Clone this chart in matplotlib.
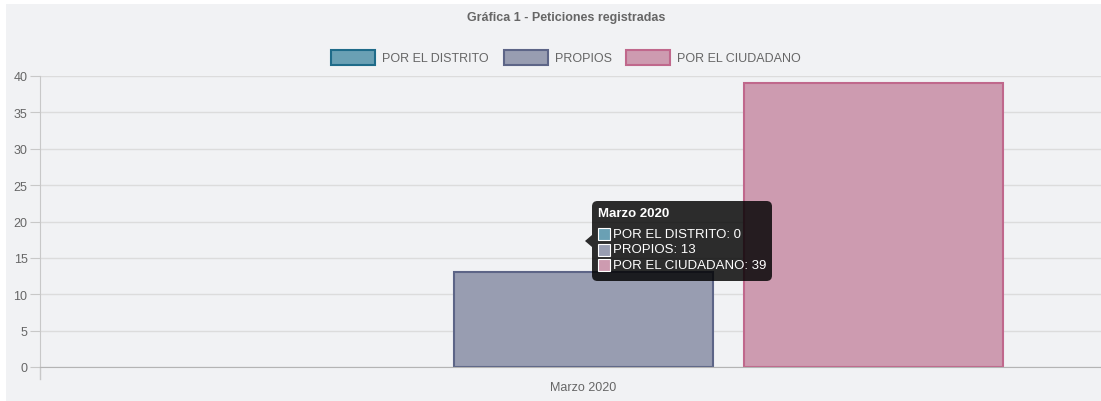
#!/usr/bin/env python3
"""Gráfica 1 - Peticiones registradas (barras agrupadas, un solo mes)."""

import matplotlib
matplotlib.use("Agg")
import matplotlib.pyplot as plt
from matplotlib.patches import FancyBboxPatch, Rectangle, Polygon

plt.rcParams["font.family"] = ["Liberation Sans", "DejaVu Sans"]

# datos
categories = ["Marzo 2020"]
series_names = ["POR EL DISTRITO", "PROPIOS", "POR EL CIUDADANO"]
values = [[0], [13], [39]]
yticks = [0, 5, 10, 15, 20, 25, 30, 35, 40]

fills = ["#6aa0b4", "#989db1", "#cd9bb0"]
edges = ["#1f6b89", "#5d6587", "#c0688c"]
BG = "#f1f2f4"
TXT = "#666666"

W, H = 1101, 402
fig = plt.figure(figsize=(W / 100, H / 100), dpi=100)
fig.patch.set_facecolor("white")


def px(x, y):
    # pixel de la imagen -> fracción de figura
    return x / W, 1 - y / H


# fondo gris del lienzo
fig.add_artist(Rectangle(px(6, H), (W - 6) / W, (H - 5) / H,
                         transform=fig.transFigure, facecolor=BG,
                         edgecolor="none", zorder=0))

# ejes: x 40 -> 1101 (la categoría llega hasta ~1127, recortada)
left, right, top, bottom = 40, 1101, 77, 368
ax = fig.add_axes([left / W, 1 - bottom / H, (right - left) / W, (bottom - top) / H])
ax.set_facecolor("none")
full_w = 1127 - left
ax.set_xlim(0, (right - left) / full_w)
ax.set_ylim(0, 40)

step = 290 / full_w
bar_w = 259 / full_w
for i, name in enumerate(series_names):
    xs = [0.5 + (i - 1) * step + j for j in range(len(categories))]
    for x, v in zip(xs, values[i]):
        # barra de altura 0: no se ve el borde
        ax.bar(x, v, width=bar_w, color=fills[i],
               edgecolor=edges[i] if v > 0 else "none",
               linewidth=1.5, zorder=3)

for s in ["top", "right"]:
    ax.spines[s].set_visible(False)
ax.spines["left"].set_color("#c8c8c8")
ax.spines["bottom"].set_color("#b4b4b4")
ax.spines["bottom"].set_zorder(4)
ax.spines["left"].set_zorder(1)

ax.set_yticks(yticks)
ax.set_yticklabels([str(t) for t in yticks])
ax.yaxis.grid(True, color="#dcdcdc", linewidth=1, zorder=0)
ax.set_axisbelow(True)
ax.tick_params(axis="y", length=7, color="#c8c8c8", labelcolor=TXT,
               labelsize=9, pad=2)
ax.set_xticks([0.5])
ax.set_xticklabels(categories)
ax.tick_params(axis="x", length=0, labelcolor=TXT, labelsize=9, pad=10)
# marca del borde izquierdo de la categoría bajo el eje
ax.plot([0, 0], [0, -12 / 7.275], color="#c8c8c8", linewidth=1, clip_on=False)

# título
fig.text(*px(566, 18), "Gráfica 1 - Peticiones registradas", ha="center",
         va="center", fontsize=9, fontweight="bold", color=TXT)

# leyenda
legend_x = [331, 504, 626]
for i, name in enumerate(series_names):
    x0 = legend_x[i]
    fig.add_artist(Rectangle(px(x0, 66), 44 / W, 15 / H,
                             transform=fig.transFigure, facecolor=fills[i],
                             edgecolor=edges[i], linewidth=1.5, zorder=5))
    fig.text(*px(x0 + 51, 58.5), name, ha="left", va="center",
             fontsize=9, color=TXT)

# tooltip
tip = FancyBboxPatch(px(592, 282), 180 / W, 80 / H,
                     boxstyle="round,pad=0,rounding_size=0.005",
                     mutation_aspect=W / H, transform=fig.transFigure,
                     facecolor="black", alpha=0.82, edgecolor="none", zorder=10)
fig.add_artist(tip)
fig.add_artist(Polygon([px(592, 236), px(585, 242), px(592, 248)], closed=True,
                       transform=fig.transFigure, facecolor="black",
                       alpha=0.82, edgecolor="none", zorder=10))
fig.text(*px(598, 214), categories[0], ha="left", va="center", fontsize=9.5,
         fontweight="bold", color="white", zorder=11)
for i, name in enumerate(series_names):
    y = 235 + i * 15.5
    fig.add_artist(Rectangle(px(598, y + 6), 12 / W, 12 / H,
                             transform=fig.transFigure, facecolor=fills[i],
                             edgecolor="white", linewidth=0.8, zorder=11))
    fig.text(*px(613, y), f"{name}: {values[i][0]}", ha="left", va="center",
             fontsize=9.5, color="white", zorder=11)

fig.savefig("out.png", dpi=100, facecolor=fig.get_facecolor())
